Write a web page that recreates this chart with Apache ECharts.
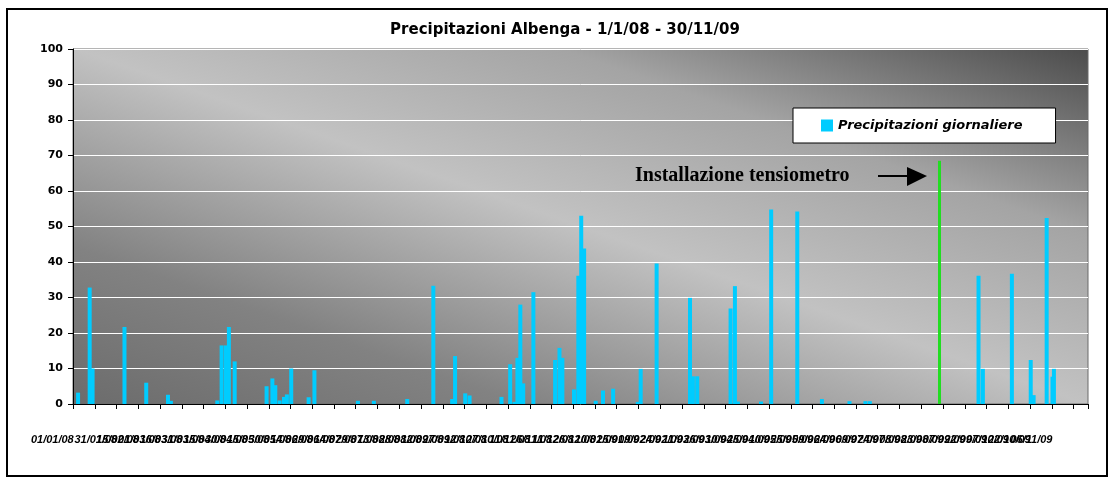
<!DOCTYPE html>
<html>
<head>
<meta charset="utf-8">
<script src="https://cdn.jsdelivr.net/npm/echarts@6/dist/echarts.min.js"></script>
<style>
html,body{margin:0;padding:0;background:#fff;}
#c{width:1114px;height:481px;}
</style>
</head>
<body>
<div id="c"></div>
<script>
// ---- data ----
const titleText = 'Precipitazioni Albenga - 1/1/08 - 30/11/09';
const seriesName = 'Precipitazioni giornaliere';
const startYear = 2008, startMonth = 0, startDay = 1, dayCount = 700;
const rainDates = ['04/01/08','12/01/08','14/01/08','05/02/08','20/02/08','06/03/08','08/03/08',
  '09/04/08','12/04/08','15/04/08','17/04/08','21/04/08','13/05/08','17/05/08','19/05/08','22/05/08',
  '25/05/08','27/05/08','30/05/08','11/06/08','15/06/08','15/07/08','26/07/08','18/08/08','05/09/08',
  '18/09/08','20/09/08','27/09/08','30/09/08','22/10/08','28/10/08','31/10/08','02/11/08','04/11/08',
  '06/11/08','13/11/08','28/11/08','01/12/08','03/12/08','11/12/08','14/12/08','16/12/08','18/12/08',
  '26/12/08','31/12/08','07/01/09','24/01/09','26/01/09','06/02/09','01/03/09','03/03/09','06/03/09',
  '29/03/09','01/04/09','03/04/09','19/04/09','26/04/09','14/05/09','31/05/09','19/06/09','30/06/09',
  '03/07/09','16/09/09','19/09/09','09/10/09','22/10/09','24/10/09','02/11/09','06/11/09','07/11/09'];
const rainValues = [3.2,32.8,10.0,21.7,6.0,2.6,0.9,
  1.0,16.5,16.5,21.7,12.0,5.0,7.2,5.3,1.0,
  2.0,2.7,10.0,1.9,9.5,0.9,0.9,1.4,33.3,
  1.4,13.5,3.0,2.4,2.0,11.2,0.6,13.0,28.0,
  5.8,31.5,12.4,15.8,13.0,4.1,36.1,53.0,43.8,
  0.9,3.8,4.3,0.6,9.9,39.6,29.9,7.8,7.8,
  26.9,33.2,0.7,0.7,54.8,54.2,1.4,0.8,0.8,
  0.8,36.1,9.9,36.7,12.4,2.5,52.4,7.7,9.9];
const installDate = '20/08/09';
const installHeight = 68.5;
const annotationText = 'Installazione tensiometro';
const yTicks = {min: 0, max: 100, interval: 10};
const labelEvery = 15;

// ---- build categories (daily) ----
function pad(n){return (n<10?'0':'')+n;}
const categories = [];
for (let i = 0; i < dayCount; i++) {
  const d = new Date(Date.UTC(startYear, startMonth, startDay + i));
  categories.push(pad(d.getUTCDate()) + '/' + pad(d.getUTCMonth()+1) + '/' + String(d.getUTCFullYear()).slice(2));
}
const rainMap = {};
rainDates.forEach((dt, i) => { rainMap[dt] = rainValues[i]; });
const seriesData = categories.map(c => (c in rainMap) ? rainMap[c] : '-');

const chart = echarts.init(document.getElementById('c'), null, {renderer: 'canvas'});
const bg = {
  type: 'linear', global: true, x: 469, y: 542, x2: 691, y2: -90,
  colorStops: [
    {offset: 0, color: '#6c6c6c'},
    {offset: 0.22, color: '#828282'},
    {offset: 0.5, color: '#c2c2c2'},
    {offset: 0.74, color: '#a4a4a4'},
    {offset: 1, color: '#4c4c4c'}
  ]
};
const option = {
  animation: false,
  backgroundColor: '#ffffff',
  title: {
    text: titleText, left: 565, top: 23, textAlign: 'center', padding: 0,
    textStyle: {fontFamily: 'DejaVu Sans', fontWeight: 'bold', fontSize: 15, color: '#000'}
  },
  legend: {
    data: [seriesName], left: 793, top: 108, orient: 'horizontal',
    backgroundColor: '#ffffff', borderColor: '#000', borderWidth: 1,
    padding: [11, 33, 11, 28], itemWidth: 12, itemHeight: 12, icon: 'rect',
    textStyle: {fontFamily: 'DejaVu Sans', fontWeight: 'bold', fontStyle: 'italic', fontSize: 13, color: '#000'}
  },
  grid: {
    left: 73, right: 26, top: 49, bottom: 77, show: true,
    backgroundColor: bg, borderColor: '#6a6a6a', borderWidth: 1
  },
  xAxis: {
    type: 'category', data: categories,
    axisLine: {lineStyle: {color: '#000', width: 1}},
    axisTick: {show: true, interval: labelEvery - 1, length: 5, lineStyle: {color: '#000'}},
    axisLabel: {
      interval: labelEvery - 1, margin: 30, align: 'right', showMinLabel: true, showMaxLabel: false, hideOverlap: false,
      fontFamily: 'Liberation Sans', fontStyle: 'italic', fontWeight: 'bold', fontSize: 11, color: '#000'
    },
    splitLine: {show: false}
  },
  yAxis: {
    type: 'value', min: yTicks.min, max: yTicks.max, interval: yTicks.interval,
    axisLine: {show: true, lineStyle: {color: '#000', width: 1}},
    axisTick: {show: true, length: 5, lineStyle: {color: '#000'}},
    axisLabel: {margin: 10, fontFamily: 'DejaVu Sans', fontWeight: 'bold', fontSize: 11, color: '#000'},
    splitLine: {show: true, lineStyle: {color: '#ffffff', width: 1}}
  },
  series: [{
    name: seriesName, type: 'bar', data: seriesData, barWidth: 4,
    itemStyle: {color: '#00ccff'},
    markLine: {
      silent: true, symbol: ['none', 'none'], label: {show: false},
      lineStyle: {color: '#22dd22', width: 3, type: 'solid'},
      data: [[{coord: [installDate, 0]}, {coord: [installDate, installHeight]}]]
    }
  }],
  graphic: [
    {type: 'rect', shape: {x: 7, y: 9, width: 1100, height: 467}, style: {fill: 'none', stroke: '#000', lineWidth: 2}, silent: true, z: 100},
    {type: 'text', x: 635, y: 176, style: {text: annotationText, font: 'bold 20px "Liberation Serif"', fill: '#000', textVerticalAlign: 'middle', verticalAlign: 'middle'}, z: 100},
    {type: 'line', shape: {x1: 878, y1: 176, x2: 910, y2: 176}, style: {stroke: '#000', lineWidth: 2}, z: 100},
    {type: 'polygon', shape: {points: [[907, 167], [927, 176], [907, 186]]}, style: {fill: '#000'}, z: 100}
  ]
};
chart.setOption(option);
</script>
</body>
</html>
